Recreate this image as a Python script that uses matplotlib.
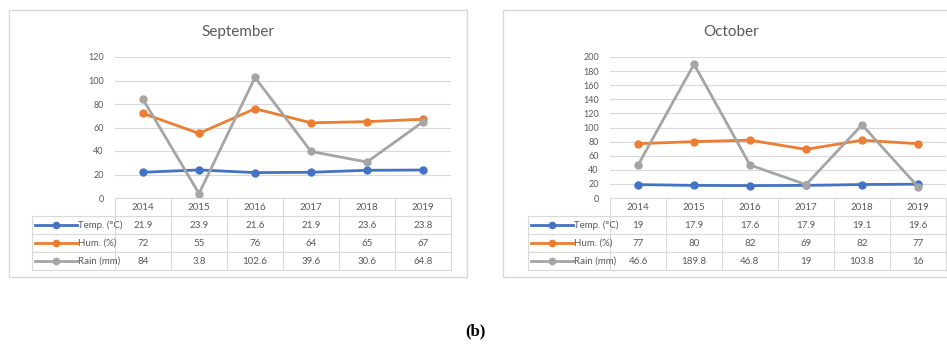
import matplotlib
matplotlib.use("Agg")
import matplotlib.pyplot as plt
from matplotlib.patches import Rectangle
from matplotlib.lines import Line2D

plt.rcParams['font.family'] = ['Lato', 'DejaVu Sans']

W, H = 947, 351

years = ["2014", "2015", "2016", "2017", "2018", "2019"]
series_names = ["Temp. (°C)", "Hum. (%)", "Rain (mm)"]
series_colors = ["#4472C4", "#ED7D31", "#A5A5A5"]

sep_temp = [21.9, 23.9, 21.6, 21.9, 23.6, 23.8]
sep_hum = [72, 55, 76, 64, 65, 67]
sep_rain = [84, 3.8, 102.6, 39.6, 30.6, 64.8]

oct_temp = [19, 17.9, 17.6, 17.9, 19.1, 19.6]
oct_hum = [77, 80, 82, 69, 82, 77]
oct_rain = [46.6, 189.8, 46.8, 19, 103.8, 16]

TXT = "#595959"
GRID = "#D9D9D9"


def fbox(x0, y0, x1, y1):
    # pixel box (top-left origin) -> figure rect
    return [x0 / W, 1 - y1 / H, (x1 - x0) / W, (y1 - y0) / H]


def fmt(v):
    return f"{v:g}"


def panel(fig, frame, plot_px, legend_left, title, ymax, data):
    fx0, fy0, fx1, fy1 = frame
    fig.patches.append(Rectangle((fx0 / W, 1 - fy1 / H), (fx1 - fx0) / W, (fy1 - fy0) / H,
                                 transform=fig.transFigure, fill=False,
                                 edgecolor="#D9D9D9", lw=1.0))
    px0, py0, px1, py1 = plot_px
    fig.text((fx0 + fx1) / 2 / W, 1 - 32 / H, title,
             ha="center", va="center", fontsize=11, color=TXT)

    ax = fig.add_axes(fbox(px0, py0, px1, py1))
    x = list(range(len(years)))
    for vals, c in zip(data, series_colors):
        ax.plot(x, vals, color=c, lw=2.0, marker="o", ms=5, zorder=3)
    ax.set_xlim(-0.5, len(years) - 0.5)
    ax.set_ylim(0, ymax)
    ax.set_yticks(range(0, ymax + 1, 20))
    ax.tick_params(axis="y", length=0, labelsize=6.5, labelcolor=TXT, pad=8)
    ax.set_xticks([])
    ax.grid(axis="y", color=GRID, lw=0.8)
    for s in ax.spines.values():
        s.set_visible(False)

    # data table below
    row_h = 18
    tab = fig.add_axes(fbox(px0, py1, px1, py1 + row_h * 4))
    tab.set_xlim(-0.5, len(years) - 0.5)
    tab.set_ylim(4, 0)
    tab.axis("off")
    colw = (px1 - px0) / len(years)
    xl = -0.5 - (px0 - legend_left) / colw
    for i, yr in enumerate(years):
        tab.text(i, 0.5, yr, ha="center", va="center", fontsize=7, color=TXT)
    for r, (vals, name, c) in enumerate(zip(data, series_names, series_colors), start=1):
        for i, v in enumerate(vals):
            tab.text(i, r + 0.5, fmt(v), ha="center", va="center", fontsize=7, color=TXT)
        tab.add_line(Line2D([xl + 0.05, xl + 0.8], [r + 0.5, r + 0.5], color=c, lw=2.0,
                            clip_on=False))
        tab.plot([xl + 0.42], [r + 0.5], marker="o", ms=4.5, color=c, clip_on=False)
        tab.text(xl + 0.82, r + 0.5, name, ha="left", va="center", fontsize=7, color=TXT,
                 clip_on=False)
    for i in range(len(years) + 1):
        tab.add_line(Line2D([i - 0.5, i - 0.5], [0, 4], color=GRID, lw=0.8, clip_on=False))
    for r in range(1, 5):
        tab.add_line(Line2D([xl, len(years) - 0.5], [r, r], color=GRID, lw=0.8, clip_on=False))
    tab.add_line(Line2D([-0.5, len(years) - 0.5], [0, 0], color=GRID, lw=0.8, clip_on=False))
    tab.add_line(Line2D([xl, xl], [1, 4], color=GRID, lw=0.8, clip_on=False))


fig = plt.figure(figsize=(W / 100, H / 100), dpi=100)

panel(fig, (9, 10, 467, 277), (115, 57, 451, 198), 32, "September", 120,
      [sep_temp, sep_hum, sep_rain])
panel(fig, (503, 10, 960, 277), (610, 57, 946, 198), 528, "October", 200,
      [oct_temp, oct_hum, oct_rain])

fig.text(475 / W, 1 - 331 / H, "(b)", ha="center", va="center", fontsize=12,
         fontweight="bold", family=["Liberation Serif", "DejaVu Serif"])

fig.savefig("out.png", dpi=100)
